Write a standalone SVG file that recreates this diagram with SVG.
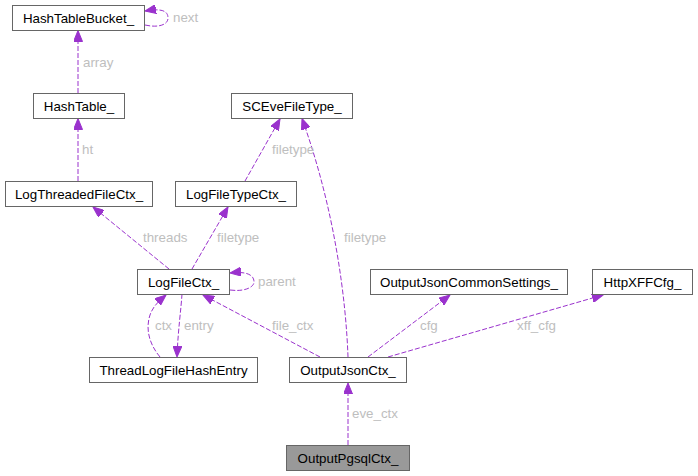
<svg xmlns="http://www.w3.org/2000/svg" width="698" height="476" viewBox="0 0 698 476">
<style>
.node rect{fill:#ffffff;stroke:#666666;stroke-width:1}
.node text{font-family:"Liberation Sans",Arial,sans-serif;font-size:13.33px;fill:#000000;text-anchor:middle}
.edge path{fill:none;stroke:#9a32cd;stroke-width:1;stroke-dasharray:5,2}
.lbl{font-family:"Liberation Sans",Arial,sans-serif;font-size:13.33px;fill:#bebebe}
</style>
<defs>
<marker id="ah" markerUnits="userSpaceOnUse" markerWidth="12" markerHeight="9" refX="11" refY="4.5" orient="auto">
<path d="M0,0 L11,4.5 L0,9 z" fill="#9a32cd" stroke="#9a32cd" stroke-width="1"/>
</marker>
</defs>
<rect width="698" height="476" fill="#ffffff"/>
<g id="edges" class="edge">
<path d="M145,25 C158,28 168,25 168,18 C168,11 162,8 145,11" marker-end="url(#ah)"/>
<path d="M78,93 L78,30.5" marker-end="url(#ah)"/>
<path d="M78,181 L78,118.5" marker-end="url(#ah)"/>
<path d="M245,181 L280,119" marker-end="url(#ah)"/>
<path d="M169,269 L93,207" marker-end="url(#ah)"/>
<path d="M192,269 L228,207" marker-end="url(#ah)"/>
<path d="M230,290 C245,292 254,287 254,282 C254,275 247,271 230,273" marker-end="url(#ah)"/>
<path d="M182,294 C181,310 178,330 177,357" marker-end="url(#ah)"/>
<path d="M160,357 C150,345 145,330 150,315 C153,306 160,300 166,295" marker-end="url(#ah)"/>
<path d="M320,357 L203,295" marker-end="url(#ah)"/>
<path d="M348,357 C346,300 335,210 302,118.5" marker-end="url(#ah)"/>
<path d="M368,357 L450,295" marker-end="url(#ah)"/>
<path d="M388,357 L603,295" marker-end="url(#ah)"/>
<path d="M348,445 L348,383" marker-end="url(#ah)"/>
<text class="lbl" x="173" y="22">next</text>
<text class="lbl" x="83" y="67">array</text>
<text class="lbl" x="82" y="154">ht</text>
<text class="lbl" x="272" y="154">filetype</text>
<text class="lbl" x="143" y="242">threads</text>
<text class="lbl" x="217" y="242">filetype</text>
<text class="lbl" x="258" y="286">parent</text>
<text class="lbl" x="184" y="330">entry</text>
<text class="lbl" x="155" y="330">ctx</text>
<text class="lbl" x="272" y="330">file_ctx</text>
<text class="lbl" x="344" y="242">filetype</text>
<text class="lbl" x="420" y="330">cfg</text>
<text class="lbl" x="517" y="330">xff_cfg</text>
<text class="lbl" x="352" y="418">eve_ctx</text>
</g>
<g id="HashTableBucket_" class="node"><rect x="12.5" y="5.5" width="132" height="25"/><text x="78.5" y="22.5">HashTableBucket_</text></g>
<g id="HashTable_" class="node"><rect x="33.5" y="93.5" width="91" height="25"/><text x="79" y="110.5">HashTable_</text></g>
<g id="SCEveFileType_" class="node"><rect x="231.5" y="93.5" width="121" height="25"/><text x="292" y="110.5">SCEveFileType_</text></g>
<g id="LogThreadedFileCtx_" class="node"><rect x="5.5" y="181.5" width="147" height="25"/><text x="79" y="198.5">LogThreadedFileCtx_</text></g>
<g id="LogFileTypeCtx_" class="node"><rect x="175.5" y="181.5" width="121" height="25"/><text x="236" y="198.5">LogFileTypeCtx_</text></g>
<g id="LogFileCtx_" class="node"><rect x="137.5" y="269.5" width="92" height="25"/><text x="183.5" y="286.5">LogFileCtx_</text></g>
<g id="OutputJsonCommonSettings_" class="node"><rect x="370.5" y="269.5" width="197" height="25"/><text x="469" y="286.5">OutputJsonCommonSettings_</text></g>
<g id="HttpXFFCfg_" class="node"><rect x="592.5" y="269.5" width="100" height="25"/><text x="642.5" y="286.5">HttpXFFCfg_</text></g>
<g id="ThreadLogFileHashEntry" class="node"><rect x="89.5" y="357.5" width="168" height="25"/><text x="173.5" y="374.5">ThreadLogFileHashEntry</text></g>
<g id="OutputJsonCtx_" class="node"><rect x="289.5" y="357.5" width="117" height="25"/><text x="348" y="374.5">OutputJsonCtx_</text></g>
<g id="OutputPgsqlCtx_" class="node"><rect x="286.5" y="445.5" width="123" height="25" style="fill:#999999"/><text x="348" y="462.5">OutputPgsqlCtx_</text></g>
</svg>
